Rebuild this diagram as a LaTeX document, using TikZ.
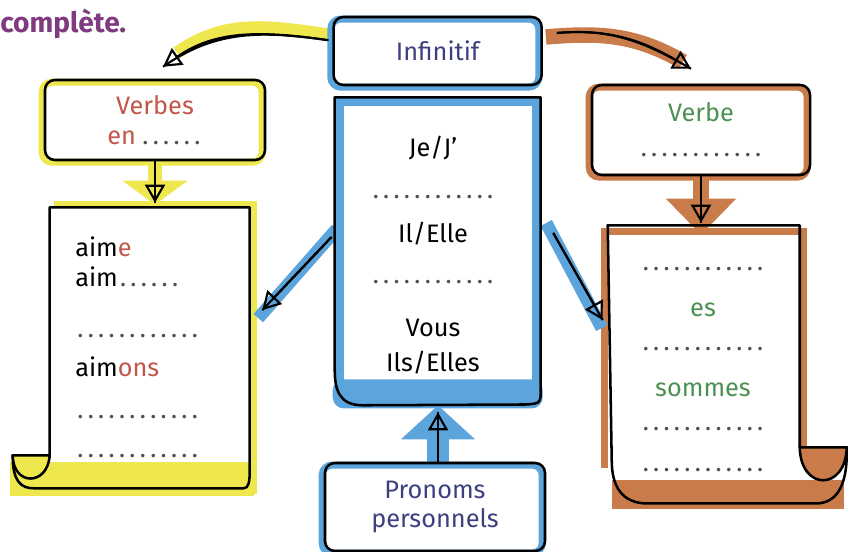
\documentclass[tikz,border=0pt]{standalone}
\usepackage{fontspec}
\setmainfont{Fira Sans}
\usetikzlibrary{arrows.meta,positioning,backgrounds}

\definecolor{jaune}{HTML}{EEE84E}
\definecolor{bleu}{HTML}{5CA5DC}
\definecolor{brique}{HTML}{C97C4A}
\definecolor{prune}{HTML}{803A80}
\definecolor{encre}{HTML}{3D3F7F}
\definecolor{rouge}{HTML}{C0574A}
\definecolor{vert}{HTML}{4C9152}
\definecolor{gris}{HTML}{505050}

\newcommand{\pointilles}[1]{\textcolor{gris}{\foreach \i in {1,...,#1}{\makebox[7.4pt]{.}}}}

\begin{document}
\begin{tikzpicture}[font=\fontsize{18}{21}\selectfont,
  cadre/.style={draw=black, line width=1.8pt, rounded corners=7pt, align=center, inner sep=0pt,
    preaction={draw=#1, line width=5pt, transform canvas={shift={(-2pt,-1.5pt)}}}},
  page/.style={inner sep=0pt},
  contour/.style={draw=black, line width=1.8pt, line join=round},
  ligne/.style={anchor=base west, inner sep=0pt},
  lignec/.style={anchor=base, inner sep=0pt},
  fleche/.style={line width=1.5pt, -{Triangle[open, length=4.5mm, width=5mm, line width=1.5pt]}, postaction={draw, -}},
  surligne/.style={draw=#1, line width=9pt}]

\path[use as bounding box] (0,0) rectangle (21.2,13.775);

\node[anchor=base west, inner sep=0pt, text=prune, font=\fontsize{20}{23}\selectfont\bfseries] (titre) at (0,12.95) {complète.};

% boxes
\node[cadre=bleu, minimum width=5.2cm, minimum height=1.7cm, text=encre] (inf) at (10.94,12.5) {Infinitif};
\node[cadre=jaune, minimum width=5.5cm, minimum height=2cm] (vb) at (3.875,10.775) {\textcolor{rouge}{Verbes}\\ \textcolor{rouge}{en}\,\pointilles{6}};
\node[cadre=brique, minimum width=5.45cm, minimum height=2.25cm] (vbe) at (17.525,10.525) {\textcolor{vert}{Verbe}\\[4pt] \pointilles{12}};
\node[cadre=bleu, minimum width=5.5cm, minimum height=2.2cm, text=encre] (pp) at (10.875,1.1) {Pronoms\\ personnels};

% scrolls
\node[page, minimum width=5cm, minimum height=7.075cm] (ls) at (3.75,5.0625) {};
\node[page, minimum width=5.15cm, minimum height=7.7cm] (cs) at (10.95,7.5) {};
\node[page, minimum width=4.8cm, minimum height=6.875cm] (rs) at (17.6,4.7125) {};

\draw[contour, shift={(ls.south west)}] (5,7.075) -- (0,7.075) -- (0,0.875) -- (-0.925,0.875)
  .. controls (-0.93,0.2) and (-0.7,0.05) .. (-0.4,0.05) -- (4.85,0.05) .. controls (4.97,0.05) and (5,0.2) .. (5,0.5) -- cycle;
\draw[contour, fill=jaune, shift={(ls.south west)}] (-0.925,0.875) .. controls (-0.92,0.1) and (-0.05,0.1) .. (0,0.875) -- cycle;

\draw[contour, shift={(cs.south west)}] (0,7.7) -- (5.15,7.7) -- (5.15,0.45) .. controls (5.15,0.05) .. (4.8,0.02)
  -- (0.7,0) .. controls (0.1,0) and (0,0.4) .. (0,0.9) -- cycle;

\draw[contour, shift={(rs.south west)}] (0,6.875) -- (4.8,6.875) -- (4.8,1.325) -- (5.975,1.325)
  .. controls (6,0.5) and (5.8,-0.08) .. (5.2,-0.08) -- (1,-0.08) .. controls (0.35,-0.08) and (0.1,0.35) .. (0.1,1) -- cycle;
\draw[contour, fill=brique, shift={(rs.south west)}] (4.8,1.325) .. controls (4.82,0.225) and (5.95,0.225) .. (5.975,1.325) -- cycle;

% scroll texts
\node[ligne] (l1) at (1.875,7.35) {aim\textcolor{rouge}{e}};
\node[ligne] (l2) at (1.875,6.6) {aim\pointilles{6}};
\node[ligne] (l3) at (1.875,5.325) {\pointilles{12}};
\node[ligne] (l4) at (1.875,4.35) {aim\textcolor{rouge}{ons}};
\node[ligne] (l5) at (1.875,3.3) {\pointilles{12}};
\node[ligne] (l6) at (1.875,2.325) {\pointilles{12}};

\node[lignec] (c1) at (10.825,9.85) {Je/J’};
\node[lignec] (c2) at (10.825,8.8) {\pointilles{12}};
\node[lignec] (c3) at (10.825,7.7) {Il/Elle};
\node[lignec] (c4) at (10.825,6.675) {\pointilles{12}};
\node[lignec] (c5) at (10.825,5.35) {Vous};
\node[lignec] (c6) at (10.825,4.475) {Ils/Elles};

\node[lignec] (r1) at (17.575,7.0) {\pointilles{12}};
\node[lignec, text=vert] (r2) at (17.575,5.85) {es};
\node[lignec] (r3) at (17.575,5.0) {\pointilles{12}};
\node[lignec, text=vert] (r4) at (17.575,3.85) {sommes};
\node[lignec] (r5) at (17.575,3.0) {\pointilles{12}};
\node[lignec] (r6) at (17.575,1.975) {\pointilles{12}};

% arrows
\draw[fleche] ([shift={(-0.1,0.27)}]inf.west) to[out=172, in=35] ([shift={(0.2,0.3)}]vb.north);
\draw[fleche] ([shift={(0.35,0.45)}]inf.east) to[out=5, in=150] ([shift={(-0.25,0.375)}]vbe.north);
\draw[fleche] (vb.south) -- ([yshift=0.1cm]vb.south |- ls.north);
\draw[fleche] (vbe.south) -- ([yshift=0.05cm]vbe.south |- rs.north);
\draw[fleche] ([shift={(-0.08,0.35)}]cs.west) -- ([shift={(0.3,0.96)}]ls.east);
\draw[fleche] ([shift={(0.3,0.45)}]cs.east) -- ([shift={(-0.125,1.06)}]rs.west);
\draw[fleche] (cs.south |- pp.north) -- ([yshift=-0.175cm]cs.south);

\begin{scope}[on background layer]
\fill[white] (0,0) rectangle (21.2,13.775);
\fill[jaune, shift={(ls.south west)}] (-1,-0.15) rectangle (5.1,0.7);
\draw[jaune, line width=4pt, shift={(ls.south west)}] (0.1,7.15) -- (5.1,7.15) -- (5.1,-0.1);
\draw[bleu, line width=6pt, shift={(cs.south west)}] (0.12,0.3) rectangle (5.03,7.58);
\fill[bleu, rounded corners=8pt, shift={(cs.south west)}] (-0.05,-0.08) rectangle (5.2,0.65);
\fill[brique, shift={(rs.south west)}] (0.1,-0.22) rectangle (5.9,0.5);
\draw[brique, line width=5pt, shift={(rs.south west)}] (-0.08,0.8) -- (-0.08,6.72) -- (4.9,6.72) -- (4.9,1.3);

\draw[surligne=jaune] ([shift={(-0.05,0.4)}]inf.west) to[out=172, in=35] ([shift={(0.55,0.65)}]vb.north);
\draw[surligne=brique, line width=11pt] ([shift={(0.075,0.35)}]inf.east) to[out=5, in=150] ([shift={(-0.45,0.55)}]vbe.north);
\draw[surligne=bleu] ([shift={(0.05,0.55)}]cs.west) -- ([shift={(0.2,0.76)}]ls.east);
\draw[surligne=bleu] ([shift={(0.125,0.7)}]cs.east) -- ([shift={(-0.15,0.86)}]rs.west);
\draw[jaune, line width=0.35cm, -{Triangle[length=0.6cm, width=1.6cm]}] (vb.south) -- ([yshift=0.05cm]vb.south |- ls.north);
\draw[brique, line width=0.4cm, -{Triangle[length=0.9cm, width=1.7cm]}] (vbe.south) -- ([yshift=-0.25cm]vbe.south |- rs.north);
\draw[bleu, line width=0.55cm, -{Triangle[length=0.85cm, width=1.8cm]}] ([yshift=-0.1cm]cs.south |- pp.north) -- (cs.south);
\end{scope}
\end{tikzpicture}
\end{document}
